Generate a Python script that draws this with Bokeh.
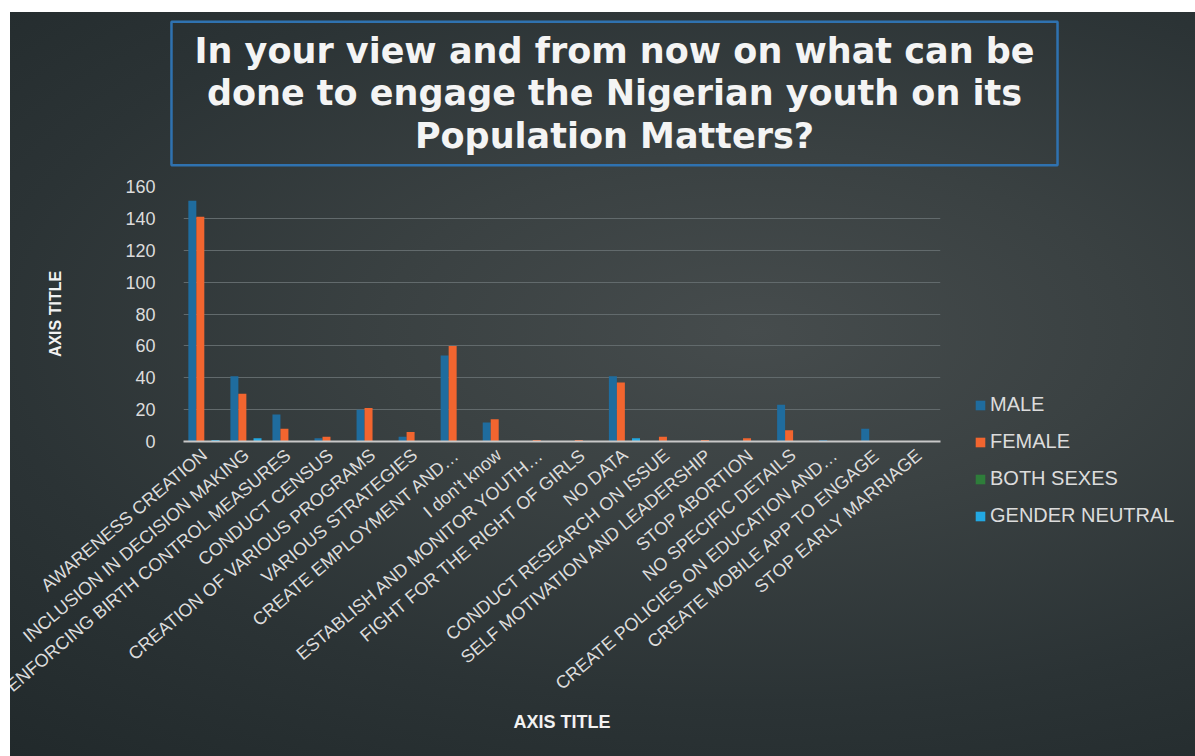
from bokeh.plotting import figure
from bokeh.models import (ColumnDataSource, FactorRange, Legend, LegendItem, Label,
                          SingleIntervalTicker, InlineStyleSheet, Range1d)
from bokeh.transform import dodge
from bokeh.embed import file_html
from bokeh.resources import INLINE

categories = ["AWARENESS CREATION", "INCLUSION IN DECISION MAKING",
              "ENFORCING BIRTH CONTROL MEASURES", "CONDUCT CENSUS",
              "CREATION OF VARIOUS PROGRAMS", "VARIOUS STRATEGIES",
              "CREATE EMPLOYMENT AND…", "I don't know",
              "ESTABLISH AND MONITOR YOUTH…", "FIGHT FOR THE RIGHT OF GIRLS",
              "NO DATA", "CONDUCT RESEARCH ON ISSUE",
              "SELF MOTIVATION AND LEADERSHIP", "STOP ABORTION",
              "NO SPECIFIC DETAILS", "CREATE POLICIES ON EDUCATION AND…",
              "CREATE MOBILE APP TO ENGAGE", "STOP EARLY MARRIAGE"]
male = [151, 41, 17, 2, 20, 3, 54, 12, 0, 0, 41, 0, 0, 0, 23, 1, 8, 0]
female = [141, 30, 8, 3, 21, 6, 60, 14, 1, 1, 37, 3, 1, 2, 7, 0, 0, 0]
both_sexes = [0, 0, 0, 0, 0, 0, 0, 0, 0, 0, 0, 0, 0, 0, 0, 0, 0, 0]
gender_neutral = [1, 2, 0, 0, 0, 0, 0, 0, 0, 0, 2, 0, 0, 0, 0, 0, 0, 0]
series_names = ["MALE", "FEMALE", "BOTH SEXES", "GENDER NEUTRAL"]
y_ticks_interval = 20

title_text = ("In your view and from now on what can be\n"
              "done to engage the Nigerian youth on its\n"
              "Population Matters?")

source = ColumnDataSource(dict(cat=categories, male=male, female=female,
                               both=both_sexes, neutral=gender_neutral))

p = figure(x_range=FactorRange(*categories), y_range=Range1d(0, 160),
           frame_width=757, frame_height=255, output_backend="svg", toolbar_location=None,
           min_border_left=173, min_border_right=255, min_border_top=174,
           min_border_bottom=315, title=None)
p.margin = (12, 0, 0, 10)
p.background_fill_alpha = 0
p.border_fill_alpha = 0
p.outline_line_color = None
p.stylesheets = [InlineStyleSheet(css=""":host { background: radial-gradient(ellipse at 46% 43%, #464c4d 0%, #3a4142 30%, #2b3335 62%, #1f2729 100%); }""")]

title = Label(text=title_text, x=431, y=93, x_units="screen", y_units="screen",
              text_align="center", text_baseline="middle",
              text_font="DejaVu Sans", text_font_size="35px", text_font_style="bold",
              text_color="#f4f4f4", text_line_height=1.07,
              border_line_color="#2f72b0", border_line_width=2.5,
              padding=(23, 9))
p.add_layout(title, "above")

colors = ["#1f6c9e", "#f2652f", "#2e7d3a", "#22a8e2"]
fields = ["male", "female", "both", "neutral"]
offsets = [-0.29, -0.10, 0.08, 0.26]
renderers = []
for f, c, o in zip(fields, colors, offsets):
    r = p.vbar(x=dodge("cat", o, range=p.x_range), top=f, width=0.19, source=source,
               fill_color=c, line_color=None)
    renderers.append(r)

p.xgrid.grid_line_color = None
p.ygrid.grid_line_color = "#626a6c"
p.ygrid.grid_line_width = 1

p.yaxis.ticker = SingleIntervalTicker(interval=y_ticks_interval, num_minor_ticks=0)
p.yaxis.axis_line_color = None
p.yaxis.major_tick_line_color = None
p.yaxis.minor_tick_line_color = None
p.yaxis.major_tick_out = 0
p.yaxis.major_tick_in = 0
p.yaxis.major_label_text_color = "#dcdcdc"
p.yaxis.major_label_text_font = "Liberation Sans"
p.yaxis.major_label_text_font_size = "18px"
p.yaxis.major_label_standoff = 28
p.yaxis.axis_label = "AXIS TITLE"
p.yaxis.axis_label_text_font = "Liberation Sans"
p.yaxis.axis_label_text_font_size = "16px"
p.yaxis.axis_label_text_font_style = "bold"
p.yaxis.axis_label_text_color = "#f2f2f2"
p.yaxis.axis_label_standoff = 58

p.xaxis.axis_line_color = "#c8c8c8"
p.xaxis.axis_line_width = 2
p.xaxis.major_tick_line_color = None
p.xaxis.minor_tick_line_color = None
p.xaxis.major_tick_out = 0
p.xaxis.major_tick_in = 0
p.xaxis.major_label_orientation = 0.70
p.xaxis.major_label_text_color = "#dcdcdc"
p.xaxis.major_label_text_font = "Liberation Sans"
p.xaxis.major_label_text_font_size = "18px"
p.xaxis.major_label_standoff = 11
p.xaxis.axis_label = "AXIS TITLE"
p.xaxis.axis_label_text_font = "Liberation Sans"
p.xaxis.axis_label_text_font_size = "18px"
p.xaxis.axis_label_text_font_style = "bold"
p.xaxis.axis_label_text_color = "#f2f2f2"
p.xaxis.axis_label_standoff = 6

legend = Legend(items=[LegendItem(label=n, renderers=[r]) for n, r in zip(series_names, renderers)],
                location=(34, -86), orientation="vertical",
                background_fill_alpha=0, border_line_color=None,
                label_text_color="#dcdcdc", label_text_font="Liberation Sans",
                label_text_font_size="20px", glyph_width=12, glyph_height=12,
                label_height=20, spacing=14, padding=0, margin=0, label_standoff=4)
p.add_layout(legend, "right")

open("out.html", "w").write(file_html(p, INLINE))
